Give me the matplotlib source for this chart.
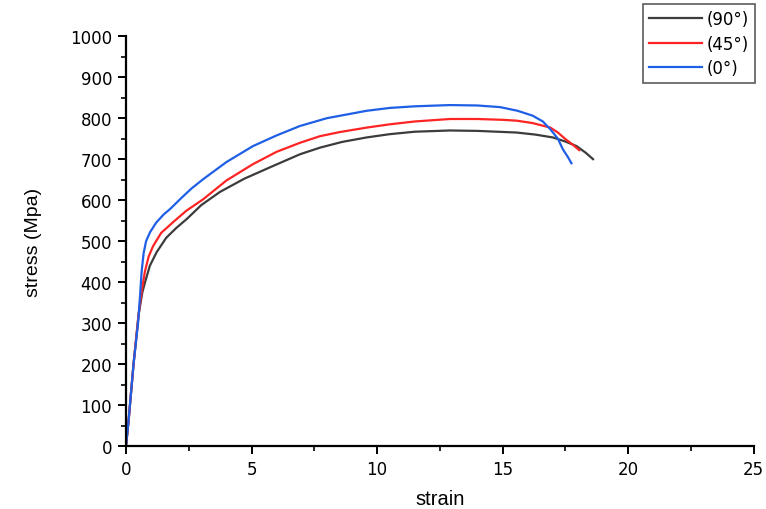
import matplotlib.pyplot as plt

plt.rcParams['font.family'] = ['Liberation Sans', 'DejaVu Sans']

# stress-strain curves
strain_90 = [0, 0.1, 0.3, 0.5, 0.65, 0.76, 0.95, 1.22, 1.6, 2.0, 2.42, 3.0, 3.74,
             4.7, 5.73, 6.93, 7.72, 8.6, 9.58, 10.5, 11.5, 12.9, 14.0, 15.55,
             16.3, 17.0, 17.5, 17.94, 18.3, 18.6]
stress_90 = [0, 60, 200, 320, 375, 400, 440, 473, 508, 532, 554, 588, 620,
             652, 680, 712, 728, 742, 753, 761, 767, 770, 769, 765,
             760, 753, 743, 732, 716, 700]

strain_45 = [0, 0.1, 0.3, 0.5, 0.62, 0.75, 0.9, 1.08, 1.4, 1.87, 2.4, 3.07, 4.0,
             5.06, 6.0, 6.93, 7.72, 8.5, 9.58, 10.5, 11.5, 12.9, 14.0, 15.0,
             15.55, 16.2, 16.9, 17.2, 17.5, 17.8, 18.05]
stress_45 = [0, 60, 200, 320, 376, 425, 462, 488, 520, 546, 574, 602, 648,
             688, 718, 740, 756, 766, 777, 785, 792, 798, 798, 796,
             794, 788, 777, 765, 749, 735, 722]

strain_0 = [0, 0.1, 0.3, 0.48, 0.56, 0.62, 0.7, 0.8, 0.96, 1.2, 1.5, 1.75, 2.2,
            2.6, 3.07, 4.0, 5.06, 6.0, 6.93, 8.0, 9.58, 10.5, 11.5, 12.9, 14.0,
            14.9, 15.6, 16.2, 16.6, 16.9, 17.2, 17.4, 17.6, 17.74]
stress_0 = [0, 60, 200, 300, 367, 424, 470, 500, 522, 545, 565, 578, 605,
            628, 651, 693, 732, 758, 781, 800, 818, 825, 829, 832, 831,
            827, 818, 806, 792, 773, 750, 724, 705, 690]

labels = ["(90°)", "(45°)", "(0°)"]
colors = ["#3c3c3c", "#ff2424", "#1f5fe6"]

fig = plt.figure(figsize=(7.66, 5.10), dpi=100)
ax = fig.add_axes([0.1645, 0.1235, 0.8195, 0.8035])

ax.plot(strain_90, stress_90, color=colors[0], lw=1.6, label=labels[0])
ax.plot(strain_45, stress_45, color=colors[1], lw=1.6, label=labels[1])
ax.plot(strain_0, stress_0, color=colors[2], lw=1.6, label=labels[2])

ax.set_xlim(0, 25)
ax.set_ylim(0, 1000)
ax.set_xticks(range(0, 26, 5))
ax.set_yticks(range(0, 1001, 100))
ax.set_xticks([2.5, 7.5, 12.5, 17.5, 22.5], minor=True)
ax.set_yticks(range(50, 1000, 100), minor=True)

for side in ["top", "right"]:
    ax.spines[side].set_visible(False)
for side in ["left", "bottom"]:
    ax.spines[side].set_linewidth(1.6)

ax.tick_params(which="major", direction="out", length=6, width=1.4, pad=4)
ax.tick_params(which="minor", direction="out", length=3.5, width=1.2)
for lab in ax.get_xticklabels() + ax.get_yticklabels():
    lab.set_family("DejaVu Sans")
    lab.set_fontsize(12)

ax.set_xlabel("strain", fontsize=14.5, labelpad=8)
ax.set_ylabel("stress (Mpa)", fontsize=14, labelpad=20)

leg = fig.legend(loc="upper right", bbox_to_anchor=(0.9856, 0.990), borderaxespad=0,
                 prop={"family": "DejaVu Sans", "size": 12},
                 frameon=True, fancybox=False, edgecolor="#333333",
                 handlelength=3.2, borderpad=0.35, labelspacing=0.4, handletextpad=0.3)
leg.get_frame().set_linewidth(1.2)

fig.savefig("out.png", dpi=100)
